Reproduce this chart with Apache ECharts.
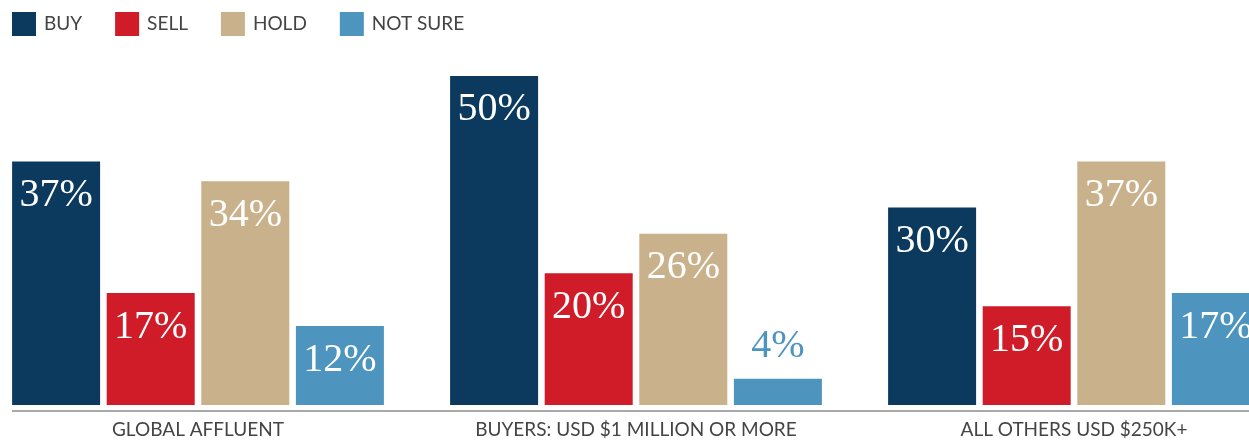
<!DOCTYPE html>
<html>
<head>
<meta charset="utf-8">
<style>
  html, body { margin: 0; padding: 0; background: #ffffff; }
  #chart { width: 1249px; height: 440px; }
</style>
<script src="https://cdn.jsdelivr.net/npm/echarts@6/dist/echarts.min.js"></script>
</head>
<body>
<div id="chart"></div>
<script>
// Survey intentions by investor group (percent of respondents)
const categories = ['GLOBAL AFFLUENT', 'BUYERS: USD $1 MILLION OR MORE', 'ALL OTHERS USD $250K+'];
const seriesNames = ['BUY', 'SELL', 'HOLD', 'NOT SURE'];
const buyValues = [37, 50, 30];
const sellValues = [17, 20, 15];
const holdValues = [34, 26, 37];
const notSureValues = [12, 4, 17];

const colors = ['#0b3a5e', '#cf1c28', '#c9b18c', '#4d95bf'];
const valueSets = [buyValues, sellValues, holdValues, notSureValues];

const chart = echarts.init(document.getElementById('chart'));

// Values too small to hold their label get it placed above the bar
const SMALL = 8;

const series = seriesNames.map((name, i) => ({
  name: name,
  type: 'bar',
  barWidth: 88,
  barGap: '7.5%',
  itemStyle: { color: colors[i] },
  data: valueSets[i].map(v => {
    const inside = v >= SMALL;
    return {
      value: v,
      label: {
        show: true,
        position: inside ? 'insideTop' : 'top',
        distance: inside ? 14 : 12,
        color: inside ? '#ffffff' : colors[i],
        formatter: '{c}%',
        fontFamily: '"Liberation Serif", "DejaVu Serif", serif',
        fontSize: 40
      }
    };
  })
}));

chart.setOption({
  animation: false,
  legend: {
    left: 12,
    top: 12,
    padding: 0,
    itemWidth: 24,
    itemHeight: 24,
    itemGap: 33,
    icon: 'rect',
    selectedMode: false,
    textStyle: {
      fontFamily: 'Lato, "Open Sans", sans-serif',
      fontSize: 19,
      color: '#444444',
      padding: [0, 0, 0, 3]
    },
    data: seriesNames
  },
  grid: {
    left: -21,
    width: 1314,
    top: 43,
    bottom: 35,
    containLabel: false,
    outerBoundsMode: 'none'
  },
  xAxis: {
    type: 'category',
    data: categories,
    axisLine: { show: false },
    axisTick: { show: false },
    axisLabel: {
      margin: 15,
      fontFamily: 'Lato, "Open Sans", sans-serif',
      fontSize: 19,
      color: '#444444'
    }
  },
  yAxis: {
    type: 'value',
    min: 0,
    max: 55,
    show: false
  },
  graphic: [{
    type: 'line',
    shape: { x1: 12, y1: 411, x2: 1249, y2: 411 },
    style: { stroke: '#a8a8a8', lineWidth: 2 }
  }],
  series: series
});
</script>
</body>
</html>
